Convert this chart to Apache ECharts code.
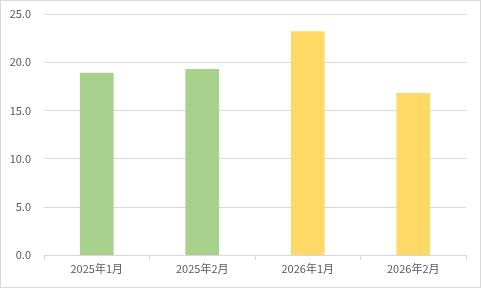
<!DOCTYPE html>
<html><head><meta charset="utf-8">
<script src="https://cdn.jsdelivr.net/npm/echarts@6/dist/echarts.min.js"></script>
<style>html,body{margin:0;padding:0;background:#fff}#c{width:481px;height:288px;box-sizing:border-box;border:1px solid #D9D9D9}</style>
</head><body><div id="c"></div>
<script>
const categories = ["2025年1月","2025年2月","2026年1月","2026年2月"];
const values = [18.9, 19.3, 23.2, 16.8];
const barColors = ["#A9D18E","#A9D18E","#FFD966","#FFD966"];
const chart = echarts.init(document.getElementById('c'));
chart.setOption({
  animation:false,
  grid:{left:43,right:14,top:13,bottom:32},
  xAxis:{type:'category',data:categories,
    axisLine:{lineStyle:{color:'#D9D9D9'}},
    axisTick:{show:true,length:5,lineStyle:{color:'#D9D9D9'}},
    axisLabel:{color:'#595959',fontSize:11,fontFamily:'Noto Sans CJK SC',margin:8}},
  yAxis:{type:'value',min:0,max:25,interval:5,
    axisLabel:{color:'#595959',fontSize:11,fontFamily:'Noto Sans CJK SC',margin:13,formatter:v=>v.toFixed(1)},
    splitLine:{lineStyle:{color:'#D9D9D9'}}},
  series:[{type:'bar',barWidth:'32%',
    data:values.map((v,i)=>({value:v,itemStyle:{color:barColors[i]}}))}]
});
</script></body></html>
